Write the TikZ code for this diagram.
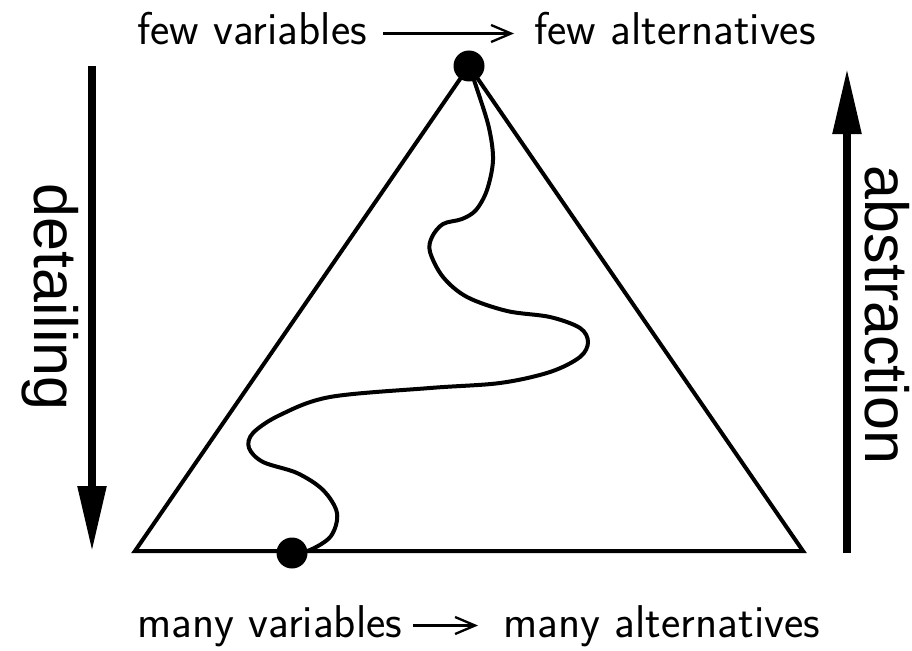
\documentclass[tikz,border=0pt]{standalone}
\usepackage{fontspec}
\newfontfamily\labelfont{Liberation Sans}
\usetikzlibrary{arrows.meta}
\tikzset{
  edge/.style={line width=4pt, line join=miter},
  dot/.style={circle, fill=black, inner sep=0pt, minimum size=31pt},
  bigarrow/.style={line width=8.5pt, -{Triangle[length=66pt,width=27pt]}},
  sidelabel/.style={font=\labelfont\fontsize{61}{70}\selectfont, rotate=-90, inner sep=0pt},
  toplabel/.style={font=\sffamily\fontsize{46}{54}\selectfont, inner sep=0pt, anchor=base west},
  textarrow/.style={line width=2.3pt, -{Straight Barb[length=20pt,width=17pt]}}
}
\begin{document}
\begin{tikzpicture}[x=1pt,y=-1pt]
\useasboundingbox (0,0) rectangle (912,650);
\coordinate (A) at (469,66);
\coordinate (B) at (135,551);
\coordinate (C) at (803,551);
\draw[edge] (A) -- (B) -- (C) -- cycle;
\node[dot] (top) at (469,66) {};
\node[dot] (bot) at (292,553) {};
\draw[line width=4pt] plot[smooth, tension=0.55] coordinates {(top.center) (478,92) (489,128) (493,160) (487,190) (476,210) (462,219) (443,224) (432,237) (430,252) (443,277) (467,297) (507,311) (550,317) (580,328) (588,342) (580,357) (550,372) (500,383) (430,388) (330,397) (280,415) (253,433) (249,448) (263,462) (297,473) (323,490) (337,513) (331,536) (310,550) (bot.center)};
\coordinate (L1) at (92,66);
\coordinate (L2) at (92,552);
\draw[bigarrow] (L1) -- (L2);
\coordinate (R1) at (847,553);
\coordinate (R2) at (847,68);
\draw[bigarrow] (R1) -- (R2);
\node[sidelabel] (det) at (50,297) {detailing};
\node[sidelabel] (abs) at (887,315) {abstraction};
\node[toplabel] (fv) at (137,45) {few variables};
\node[toplabel] (fa) at (534,45) {few alternatives};
\draw[textarrow] ([xshift=16pt,yshift=11.5pt]fv.base east) -- ([xshift=-20pt,yshift=11.5pt]fa.base west);
\node[toplabel] (mv) at (137,637) {many variables};
\node[toplabel] (ma) at (503,637) {many alternatives};
\draw[textarrow] ([xshift=11pt,yshift=11.5pt]mv.base east) -- ([xshift=-25pt,yshift=11.5pt]ma.base west);
\end{tikzpicture}
\end{document}
